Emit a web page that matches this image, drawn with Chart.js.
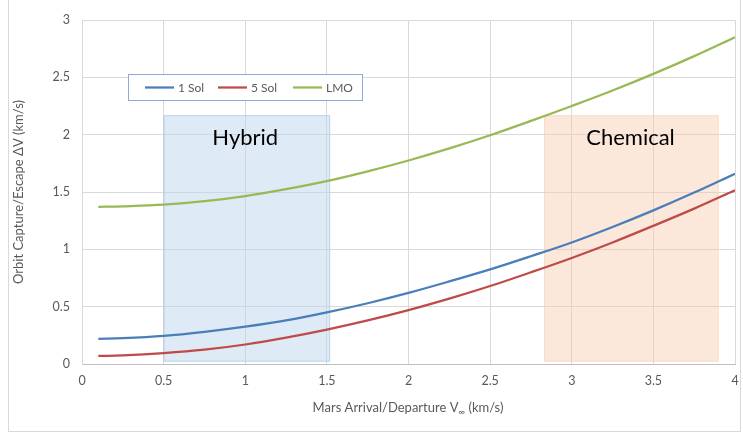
<!DOCTYPE html>
<html>
<head>
<meta charset="utf-8">
<script src="https://cdn.jsdelivr.net/npm/chart.js@4.4.1/dist/chart.umd.min.js"></script>
<style>
  html, body { margin: 0; padding: 0; background: #fff; }
  #wrap { position: relative; width: 743px; height: 438px; }
  #frame { position: absolute; left: 8px; top: -1px; width: 733px; height: 433px; border: 1px solid #d9d9d9; box-sizing: border-box; pointer-events: none; }
</style>
</head>
<body>
<div id="wrap">
  <canvas id="dvChart" width="743" height="438"></canvas>
  <div id="frame"></div>
</div>
<script>
// --- datos: velocidad de llegada/salida vs delta-V de captura ---
const vInf = [0.1, 0.25, 0.5, 0.75, 1, 1.25, 1.5, 1.75, 2, 2.25, 2.5, 2.75, 3, 3.25, 3.5, 3.75, 4];
const sol1 = [0.22, 0.225, 0.245, 0.28, 0.325, 0.38, 0.45, 0.53, 0.62, 0.72, 0.825, 0.94, 1.06, 1.195, 1.34, 1.495, 1.66];
const sol5 = [0.07, 0.075, 0.095, 0.125, 0.17, 0.23, 0.30, 0.38, 0.47, 0.57, 0.68, 0.80, 0.925, 1.06, 1.205, 1.355, 1.515];
const lmo  = [1.37, 1.375, 1.39, 1.42, 1.465, 1.525, 1.595, 1.68, 1.775, 1.88, 1.995, 2.12, 2.25, 2.385, 2.53, 2.685, 2.85];

const seriesNames = ['1 Sol', '5 Sol', 'LMO'];
const xTicks = [0, 0.5, 1, 1.5, 2, 2.5, 3, 3.5, 4];
const yTicks = [0, 0.5, 1, 1.5, 2, 2.5, 3];

// zonas de propulsión: [xmin, xmax, ymin, ymax]
const hybridZone = [0.5, 1.52, 0.02, 2.17];
const chemicalZone = [2.83, 3.9, 0.02, 2.17];
const zoneLabels = ['Hybrid', 'Chemical'];

const FONT = 'Lato, "Open Sans", sans-serif';
const colores = ['#4a7ebb', '#be4b48', '#98b954'];

const toPoints = ys => vInf.map((x, i) => ({ x: x, y: ys[i] }));

// sombreado de zonas y sus etiquetas, dibujado debajo de las curvas
const zonasPlugin = {
  id: 'zonas',
  beforeDatasetsDraw(chart) {
    const { ctx, scales: { x, y } } = chart;
    const zonas = [
      { r: hybridZone, fill: 'rgba(189,215,238,0.5)', edge: 'rgba(157,190,222,0.5)', label: zoneLabels[0], lx: 1.0 },
      { r: chemicalZone, fill: 'rgba(248,203,173,0.45)', edge: 'rgba(248,203,173,0.45)', label: zoneLabels[1], lx: 3.36 }
    ];
    ctx.save();
    zonas.forEach(z => {
      const x0 = x.getPixelForValue(z.r[0]), x1 = x.getPixelForValue(z.r[1]);
      const y0 = y.getPixelForValue(z.r[3]), y1 = y.getPixelForValue(z.r[2]);
      ctx.fillStyle = z.fill;
      ctx.fillRect(x0, y0, x1 - x0, y1 - y0);
      ctx.strokeStyle = z.edge;
      ctx.lineWidth = 1;
      ctx.strokeRect(x0 + 0.5, y0 + 0.5, x1 - x0 - 1, y1 - y0 - 1);
      ctx.fillStyle = '#000';
      ctx.font = '22px ' + FONT;
      ctx.textAlign = 'center';
      ctx.textBaseline = 'middle';
      ctx.fillText(z.label, x.getPixelForValue(z.lx), y.getPixelForValue(1.97));
    });
    ctx.restore();
  }
};

// leyenda en recuadro dentro del área del gráfico + título del eje X con subíndice
const extrasPlugin = {
  id: 'extras',
  afterDraw(chart) {
    const { ctx } = chart;
    ctx.save();
    // recuadro de leyenda
    ctx.fillStyle = '#fff';
    ctx.fillRect(128, 74, 234, 26);
    ctx.strokeStyle = '#8eaadb';
    ctx.lineWidth = 1;
    ctx.strokeRect(128.5, 74.5, 234, 26);
    const items = [[145, 178], [218, 251], [293, 326]];
    ctx.font = '12px ' + FONT;
    ctx.textBaseline = 'middle';
    ctx.textAlign = 'left';
    items.forEach((it, i) => {
      ctx.strokeStyle = colores[i];
      ctx.lineWidth = 2.25;
      ctx.beginPath();
      ctx.moveTo(it[0], 87.5);
      ctx.lineTo(it[0] + 29, 87.5);
      ctx.stroke();
      ctx.fillStyle = '#595959';
      ctx.fillText(seriesNames[i], it[1], 88);
    });
    // título eje X: "Mars Arrival/Departure V∞ (km/s)"
    const p1 = 'Mars Arrival/Departure V', sub = '\u221E', p2 = ' (km/s)';
    ctx.font = '13px ' + FONT;
    const w1 = ctx.measureText(p1).width, w3 = ctx.measureText(p2).width;
    ctx.font = '9px ' + FONT;
    const w2 = ctx.measureText(sub).width;
    let xs = 408 - (w1 + w2 + w3) / 2;
    ctx.fillStyle = '#595959';
    ctx.font = '13px ' + FONT;
    ctx.fillText(p1, xs, 408);
    ctx.font = '9px ' + FONT;
    ctx.fillText(sub, xs + w1, 412);
    ctx.font = '13px ' + FONT;
    ctx.fillText(p2, xs + w1 + w2, 408);
    ctx.restore();
  }
};

const linea = (label, ys, i) => ({
  label: label,
  data: toPoints(ys),
  borderColor: colores[i],
  backgroundColor: colores[i],
  borderWidth: 2.25,
  pointRadius: 0,
  tension: 0.35,
  fill: false
});

const fmt = v => String(v);

new Chart(document.getElementById('dvChart').getContext('2d'), {
  type: 'line',
  data: {
    datasets: [
      linea(seriesNames[0], sol1, 0),
      linea(seriesNames[1], sol5, 1),
      linea(seriesNames[2], lmo, 2)
    ]
  },
  options: {
    responsive: false,
    animation: false,
    layout: { padding: { left: 11, right: 8, top: 20, bottom: 8 } },
    plugins: {
      legend: { display: false },
      tooltip: { enabled: false }
    },
    scales: {
      x: {
        type: 'linear',
        min: 0, max: 4,
        afterBuildTicks: s => { s.ticks = xTicks.map(v => ({ value: v })); },
        afterFit: s => { s.height = 66; s.paddingLeft = 0; s.paddingRight = 0; },
        grid: { color: '#d9d9d9', drawTicks: false },
        border: { color: '#bfbfbf' },
        ticks: { color: '#595959', font: { family: FONT, size: 12.5 }, padding: 9, maxRotation: 0, callback: fmt }
      },
      y: {
        min: 0, max: 3,
        afterBuildTicks: s => { s.ticks = yTicks.map(v => ({ value: v })); },
        afterFit: s => { s.width = 71; },
        grid: { color: '#d9d9d9', drawTicks: false },
        border: { color: '#d9d9d9' },
        ticks: { color: '#595959', font: { family: FONT, size: 12.5 }, padding: 12, callback: fmt },
        title: {
          display: true,
          text: 'Orbit Capture/Escape \u0394V (km/s)',
          color: '#595959',
          font: { family: FONT, size: 13 },
          padding: { top: 0, bottom: 14 }
        }
      }
    }
  },
  plugins: [zonasPlugin, extrasPlugin]
});
</script>
</body>
</html>
